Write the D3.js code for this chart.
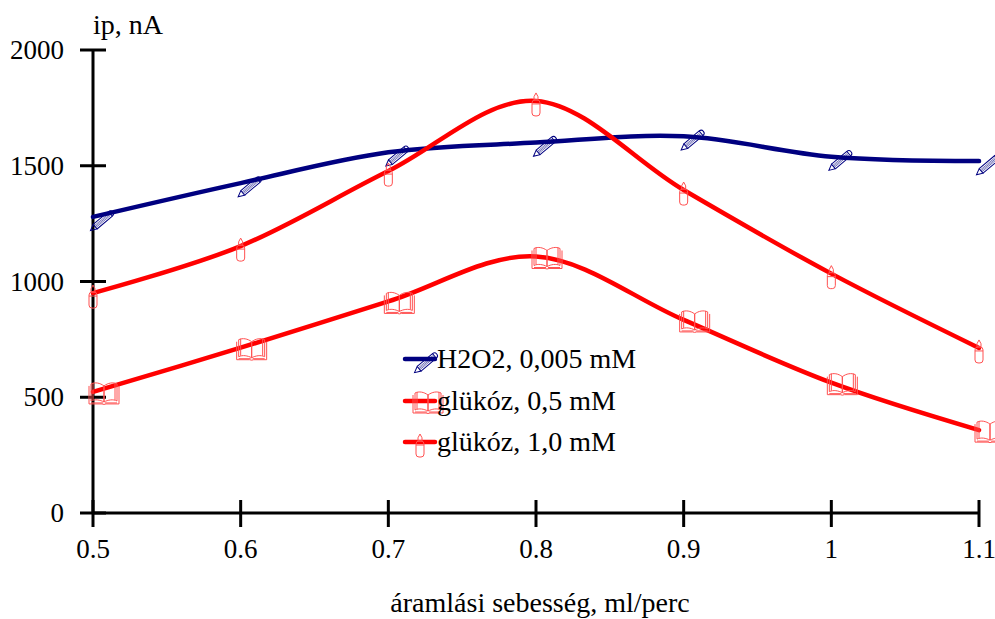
<!DOCTYPE html>
<html>
<head>
<meta charset="utf-8">
<script src="https://cdn.jsdelivr.net/npm/d3@7"></script>
<style>
  html, body { margin: 0; padding: 0; background: #fff; }
  svg { display: block; font-family: "Liberation Serif", "Times New Roman", serif; }
</style>
</head>
<body>
<svg id="chart" width="995" height="619"></svg>
<script>
// ---- data ----
const flowRates = [0.5, 0.6, 0.7, 0.8, 0.9, 1.0, 1.1];
const h2o2 = [1279, 1425, 1558, 1600, 1627, 1539, 1520];
const glucose05 = [523, 714, 914, 1108, 834, 563, 358];
const glucose10 = [950, 1153, 1477, 1780, 1395, 1034, 713];
const xTicks = [0.5, 0.6, 0.7, 0.8, 0.9, 1.0, 1.1];
const xTickLabels = ["0.5", "0.6", "0.7", "0.8", "0.9", "1", "1.1"];
const yTicks = [0, 500, 1000, 1500, 2000];
const seriesNames = ["H2O2, 0,005 mM", "glükóz, 0,5 mM", "glükóz, 1,0 mM"];
const xTitle = "áramlási sebesség, ml/perc";
const yTitle = "ip, nA";

const series = [
  { name: seriesNames[0], values: h2o2, color: "#000080", marker: "pencil" },
  { name: seriesNames[1], values: glucose05, color: "#ff0000", marker: "book" },
  { name: seriesNames[2], values: glucose10, color: "#ff0000", marker: "candle" }
];

const svg = d3.select("#chart");
const x = d3.scaleLinear().domain([0.5, 1.1]).range([93, 979]);
const y = d3.scaleLinear().domain([0, 2000]).range([513, 50]);

// ---- axes ----
const ax = svg.append("g").attr("stroke", "#000").attr("stroke-width", 3);
ax.append("line").attr("x1", x(0.5)).attr("x2", x(1.1)).attr("y1", y(0)).attr("y2", y(0));
ax.append("line").attr("x1", x(0.5)).attr("x2", x(0.5)).attr("y1", y(0)).attr("y2", y(2000));
ax.selectAll(".yt").data(yTicks).enter().append("line")
  .attr("x1", x(0.5) - 13).attr("x2", x(0.5) + 13)
  .attr("y1", d => y(d)).attr("y2", d => y(d));
ax.selectAll(".xt").data(xTicks).enter().append("line")
  .attr("x1", d => x(d)).attr("x2", d => x(d))
  .attr("y1", y(0) - 13).attr("y2", y(0) + 14);

svg.selectAll(".ylab").data(yTicks).enter().append("text")
  .attr("x", 64).attr("y", d => y(d) + 9)
  .attr("text-anchor", "end").attr("font-size", 27).text(d => d);
svg.selectAll(".xlab").data(xTicks).enter().append("text")
  .attr("x", d => x(d)).attr("y", 558)
  .attr("text-anchor", "middle").attr("font-size", 27).text((d, i) => xTickLabels[i]);

svg.append("text").attr("x", 540).attr("y", 612).attr("text-anchor", "middle")
  .attr("font-size", 28).text(xTitle);
svg.append("text").attr("x", 93).attr("y", 34).attr("font-size", 28).text(yTitle);

// ---- markers ----
function drawMarker(g, type, px, py, color) {
  const m = g.append("g").attr("fill", "none").attr("stroke", color).attr("stroke-width", 1);
  if (type === "pencil") {
    const p = m.attr("transform", `translate(${px + 9},${py + 4}) rotate(-40)`);
    p.append("path").attr("d", "M-15,0 L-9,-3 L-9,3 Z");
    p.append("path").attr("d", "M-9,-3 L11,-3 A3,3 0 0 1 11,3 L-9,3");
    p.append("line").attr("x1", 11).attr("x2", 11).attr("y1", -3).attr("y2", 3);
    [-1.2, 0, 1.2].forEach(k => {
      p.append("line").attr("x1", -9).attr("x2", 10).attr("y1", k).attr("y2", k)
        .attr("stroke-width", 0.5);
    });
  } else if (type === "book") {
    const b = m.attr("transform", `translate(${px + 11},${py + 1})`).attr("stroke", "#ff5050");
    b.append("path").attr("d", "M0,-7 C-4,-10 -9,-11 -13,-9 L-13,8 C-9,6 -4,7 0,9 Z");
    b.append("path").attr("d", "M0,-7 C4,-10 9,-11 13,-9 L13,8 C9,6 4,7 0,9 Z");
    b.append("path").attr("d", "M-11,-10 L-11,7 M11,-10 L11,7");
    b.append("path").attr("d", "M-15,-7 L-15,11 L-2,11 Q0,12 2,11 L15,11 L15,-7");
    b.append("path").attr("d", "M-13,10 L-1,10 M1,10 L13,10");
  } else if (type === "candle") {
    const c = m.attr("transform", `translate(${px},${py + 4})`).attr("stroke", "#ff5050");
    c.append("path").attr("d", "M0,-12 Q3,-8 2,-5 L-2,-5 Q-3,-8 0,-12 Z");
    c.append("rect").attr("x", -4).attr("y", -5).attr("width", 8).attr("height", 16).attr("rx", 3);
    c.append("line").attr("x1", -4).attr("x2", 4).attr("y1", -1).attr("y2", -1);
  }
}

// ---- lines ----
const line = d3.line()
  .x((d, i) => x(flowRates[i]))
  .y(d => y(d))
  .curve(d3.curveCatmullRom.alpha(0));

series.forEach(s => {
  svg.append("path").datum(s.values).attr("d", line)
    .attr("fill", "none").attr("stroke", s.color).attr("stroke-width", 4.5)
    .attr("stroke-linecap", "round");
});
series.forEach(s => {
  const g = svg.append("g");
  s.values.forEach((v, i) => drawMarker(g, s.marker, x(flowRates[i]), y(v), s.color));
});

// ---- legend ----
const legendRows = [359, 401, 442];
series.forEach((s, i) => {
  const ly = legendRows[i];
  svg.append("line").attr("x1", 405).attr("x2", 435).attr("y1", ly).attr("y2", ly)
    .attr("stroke", s.color).attr("stroke-width", 4.5).attr("stroke-linecap", "round");
  drawMarker(svg.append("g"), s.marker, s.marker === "candle" ? 420 : 417, ly, s.color);
  svg.append("text").attr("x", 437).attr("y", ly + 9).attr("font-size", 28).text(s.name);
});
</script>
</body>
</html>
